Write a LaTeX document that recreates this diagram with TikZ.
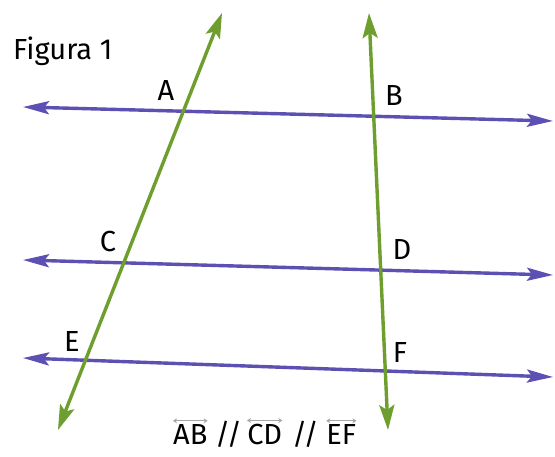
\documentclass[tikz,border=0pt]{standalone}
\usepackage{fontspec}
\setmainfont{Fira Sans}
\usetikzlibrary{arrows.meta}
\definecolor{lpurple}{RGB}{92,80,178}
\definecolor{lgreen}{RGB}{110,158,46}
\begin{document}
\begin{tikzpicture}[x=1pt,y=-1pt,
  pline/.style={draw=lpurple,line width=3.4pt,{Stealth[length=26pt,width=13pt,inset=5pt]}-{Stealth[length=26pt,width=13pt,inset=5pt]}},
  gline/.style={draw=lgreen,line width=3.4pt,{Stealth[length=25pt,width=15pt,inset=5pt]}-{Stealth[length=25pt,width=15pt,inset=5pt]}},
  lbl/.style={font=\fontsize{29}{32}\selectfont,inner sep=0pt,text=black},
  ovarr/.style={draw=gray!70,line width=1pt,{Stealth[length=4pt,width=5pt]}-{Stealth[length=4pt,width=5pt]}}]
\useasboundingbox (0,0) rectangle (555,457);
\fill[white] (0,0) rectangle (555,457);
% line ends
\coordinate (t1) at (23,107);  \coordinate (t2) at (553,121);
\coordinate (m1) at (23,260);  \coordinate (m2) at (553,275);
\coordinate (b1) at (23,358);  \coordinate (b2) at (553,377);
\coordinate (g1a) at (222,13); \coordinate (g1b) at (58,430);
\coordinate (g2a) at (369,13); \coordinate (g2b) at (388,430);
% lines
\path[pline] (t1) -- (t2);
\path[pline] (m1) -- (m2);
\path[pline] (b1) -- (b2);
\path[gline] (g1b) -- (g1a);
\path[gline] (g2b) -- (g2a);
% labels
\node[lbl,anchor=base west] (fig) at (13,60) {Figura 1};
\node[lbl] (A) at (166,91) {A};
\node[lbl] (B) at (394,96) {B};
\node[lbl] (C) at (108,242) {C};
\node[lbl] (D) at (402,250) {D};
\node[lbl] (E) at (72,342) {E};
\node[lbl] (F) at (400,353) {F};
% bottom relation
\node[lbl,anchor=base west] (rel) at (173,445) {\phantom{AB} // \phantom{CD} // \phantom{EF}};
\node[lbl,anchor=base west] (ab) at (rel.base west) {AB};
\node[lbl,anchor=base east] (ef) at (rel.base east) {EF};
\node[lbl,anchor=base] (cd) at (rel.base) {CD};
\draw[ovarr] ([yshift=4pt]ab.north west) -- ([yshift=4pt]ab.north east);
\draw[ovarr] ([yshift=4pt]cd.north west) -- ([yshift=4pt]cd.north east);
\draw[ovarr] ([yshift=4pt]ef.north west) -- ([yshift=4pt]ef.north east);
\end{tikzpicture}
\end{document}
